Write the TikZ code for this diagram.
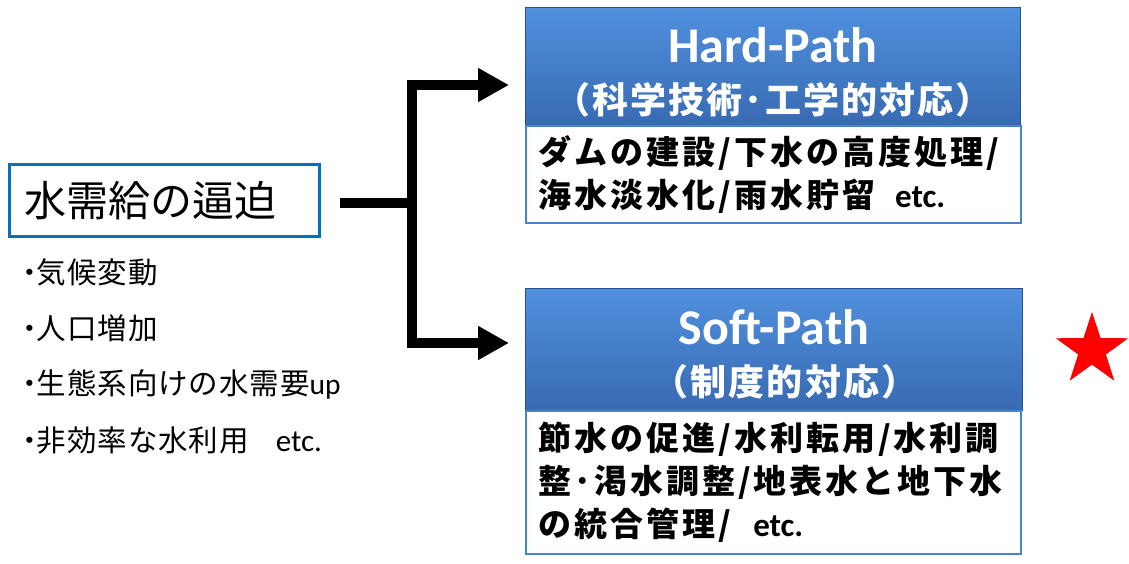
\documentclass[tikz,border=0pt]{standalone}
\usepackage{fontspec}
\usetikzlibrary{arrows.meta,shapes.geometric}
\newfontfamily\jp{Noto Sans CJK JP}
\newfontfamily\jpbody{Noto Sans CJK JP}[LetterSpace=9]
\newfontfamily\jphead{Noto Sans CJK JP}[LetterSpace=6]
\newfontfamily\jpitem{Noto Sans CJK JP}[LetterSpace=3]
\newfontfamily\lat{Carlito}
\definecolor{hdrtop}{RGB}{80,144,222}
\definecolor{hdrbot}{RGB}{56,106,178}
\definecolor{hdredge}{RGB}{40,80,140}
\definecolor{boxblue}{RGB}{0,112,192}
\definecolor{bodyblue}{RGB}{70,134,200}
\newcommand{\etc}{{\lat etc.}}
\newcommand{\dotmark}{{\bfseries ･}}
\begin{document}
\begin{tikzpicture}[x=1pt, y=-1pt,
    hdr/.style={rectangle, draw=hdredge, line width=1pt, top color=hdrtop,
      bottom color=hdrbot, text=white, align=center, inner sep=0pt,
      anchor=north west},
    body/.style={rectangle, draw=bodyblue, line width=1.5pt, fill=white,
      align=left, anchor=north west, inner xsep=13pt, inner ysep=0pt,
      font=\jpbody\bfseries\fontsize{33}{43}\selectfont},
    item/.style={anchor=west, inner sep=0pt, font=\jpitem\fontsize{29.5}{35}\selectfont},
    link/.style={line width=10.5pt, line join=miter}]
  \useasboundingbox (0,0) rectangle (1129,563);

  % left side
  \node [draw=boxblue, line width=3pt, minimum width=310pt, minimum height=72pt,
    inner sep=0pt, anchor=north west, font=\jp\fontsize{42}{45}\selectfont]
    (need) at (8,163) {\hspace*{-28pt}水需給の逼迫};
  \node [item] (c1) at (22,272) {\dotmark 気候変動};
  \node [item] (c2) at (22,328) {\dotmark 人口増加};
  \node [item] (c3) at (22,384) {\dotmark 生態系向けの水需要{\lat up}};
  \node [item] (c4) at (22,440) {\dotmark 非効率な水利用\hspace{27pt}{\fontsize{31}{35}\selectfont\etc}};

  % Hard-Path
  \node [hdr, minimum width=495pt, minimum height=118pt] (hard) at (525,7) {};
  \node [text=white, font=\lat\bfseries\fontsize{50}{54}\selectfont]
    (hardt) at (773,45) {Hard-Path};
  \node [text=white, font=\jphead\bfseries\fontsize{36}{40}\selectfont]
    (hards) at (773,100) {（科学技術･工学的対応）};
  \node [body, minimum width=495pt, minimum height=97pt, text width=469pt]
    (hardb) at (525,125)
    {ダムの建設/下水の高度処理/\\海水淡水化/雨水貯留\hspace{20pt}\etc};

  % Soft-Path
  \node [hdr, minimum width=497pt, minimum height=122pt] (soft) at (525,288) {};
  \node [text=white, font=\lat\bfseries\fontsize{50}{54}\selectfont]
    (softt) at (774,327) {Soft-Path};
  \node [text=white, font=\jphead\bfseries\fontsize{36}{40}\selectfont]
    (softs) at (785,382) {（制度的対応）};
  \node [body, minimum width=495pt, minimum height=143pt, text width=469pt]
    (softb) at (525,410)
    {節水の促進/水利転用/水利調\\整･渇水調整/地表水と地下水\\の統合管理/\hspace{22pt}\etc};

  \node [star, star points=5, star point ratio=2.6, fill=red, inner sep=0pt,
    minimum size=76pt] (mark) at (1092,350) {};

  % connectors
  \coordinate (fork) at (412,203);
  \coordinate (hardin) at (509,85);
  \coordinate (softin) at (509,343);
  \draw [link] (need.east |- fork) ++(19pt,0) -- (fork);
  \draw [link, -{Triangle[length=31pt,width=32pt]}] (fork) |- (hardin);
  \draw [link, -{Triangle[length=31pt,width=32pt]}] (fork) |- (softin);
\end{tikzpicture}
\end{document}
